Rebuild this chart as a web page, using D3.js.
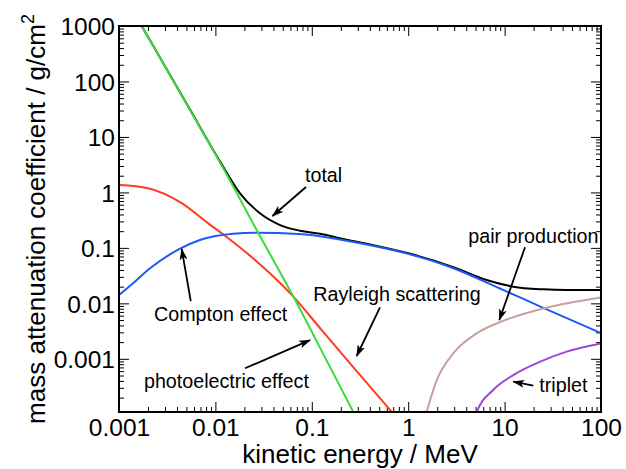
<!DOCTYPE html>
<html><head><meta charset="utf-8">
<script src="https://cdn.jsdelivr.net/npm/d3@7"></script>
<style>
body{margin:0;background:#fff}
svg{display:block}
text{font-family:"Liberation Sans",Arial,Helvetica,sans-serif;fill:#000}
</style>
</head><body>
<svg id="chart" width="626" height="469"></svg>
<script>
// ---- tick labels ----
const xTickValues = [0.001, 0.01, 0.1, 1, 10, 100];
const xTickLabels = ["0.001", "0.01", "0.1", "1", "10", "100"];
const yTickValues = [1000, 100, 10, 1, 0.1, 0.01, 0.001];
const yTickLabels = ["1000", "100", "10", "1", "0.1", "0.01", "0.001"];

// ---- series (energy in MeV, coefficient in g/cm^2) ----
const photoE = [0.0014, 0.00172, 0.0025, 0.00545, 0.0121, 0.0268, 0.0658, 0.12, 0.2695, 0.3];
const photoV = [1830, 1000, 326, 30.6, 2.69, 0.21, 0.01233, 0.00166, 1.1e-4, 7.66e-5];

const rayleighE = [0.001, 0.002, 0.00447, 0.00843, 0.0136, 0.0258, 0.0619, 0.1267, 0.292, 0.675, 0.8];
const rayleighV = [1.36, 1.19, 0.64, 0.277, 0.149, 0.0604, 0.0142, 0.0033, 6.0e-4, 1.11e-4, 7.9e-5];

const comptonE = [0.001, 0.0014, 0.0021, 0.0043, 0.0069, 0.0152, 0.0258, 0.08, 0.2, 0.37, 1, 2.94, 8.95, 25.2, 100];
const comptonV = [0.0141, 0.023, 0.0428, 0.097, 0.139, 0.18, 0.188, 0.177, 0.14, 0.115, 0.078, 0.043, 0.0185, 0.0083, 0.0029];

const totalE = [0.0014, 0.00172, 0.0025, 0.00545, 0.01117, 0.018, 0.029, 0.0468, 0.0754, 0.1216, 0.2, 0.37, 1, 2.94, 6.5, 12.3, 25.2, 44, 100];
const totalV = [1830, 1000, 326, 31.2, 3.6, 0.964, 0.42, 0.258, 0.204, 0.18, 0.148, 0.119, 0.08, 0.045, 0.0264, 0.020, 0.0179, 0.0174, 0.0174];

const pairE = [1.5, 1.98, 2.94, 5.13, 8.95, 25.2, 100];
const pairV = [9e-5, 4.15e-4, 1.26e-3, 0.00288, 0.0046, 0.0081, 0.0128];

const tripletE = [4.8, 5.13, 7.6, 12.3, 23.4, 44, 100];
const tripletV = [8e-5, 1.1e-4, 2.74e-4, 5.1e-4, 8.9e-4, 1.35e-3, 1.9e-3];

// ---- annotations: text anchor and arrow (tail -> head), in data units ----
const annTexts = ["total", "Compton effect", "photoelectric effect", "Rayleigh scattering", "pair production", "triplet"];
const annTextE = [0.085, 0.00231, 0.001816, 0.1037, 4.20, 22.9];
const annTextV = [1.54, 0.00481, 2.92e-4, 0.01117, 0.121, 2.49e-4];
const arrowFromE = [0.0871, 0.00555, 0.0203, 0.51, 16.28, 19.85];
const arrowFromV = [1.25, 0.0110, 6.75e-4, 8.49e-3, 0.1024, 3.28e-4];
const arrowToE = [0.0391, 0.00447, 0.0958, 0.292, 8.81, 12.31];
const arrowToV = [0.3755, 0.0955, 2.18e-3, 1.125e-3, 5.01e-3, 3.87e-4];

// ---- layout ----
const L = 119, R = 601, T = 26, B = 412;
const svg = d3.select("#chart");

const x = d3.scaleLog().domain([0.001, 100]).range([L, R]);
const y = d3.scaleLog().domain([1.1e-4, 1000]).range([B, T]);

function minors(lo, hi) {
  const out = [];
  for (let e = Math.floor(Math.log10(lo)); e < Math.ceil(Math.log10(hi)); e++) {
    for (let m = 2; m <= 9; m++) {
      const v = m * Math.pow(10, e);
      if (v > lo && v < hi) out.push(v);
    }
  }
  return out;
}
const xMinor = minors(0.001, 100);
const yMinor = minors(1.1e-4, 1000);
const MAJ = 10, MIN = 5;
const TICKFONT = 24.5;

function styleAxis(g) {
  g.select(".domain").remove();
  g.selectAll(".tick line").attr("stroke", "#000").attr("stroke-width", 1);
}

// bottom
svg.append("g").attr("transform", `translate(0,${B})`)
  .call(d3.axisBottom(x).tickValues(xTickValues).tickSize(-MAJ).tickPadding(7)
        .tickFormat((d, i) => xTickLabels[i]))
  .call(styleAxis)
  .call(g => g.selectAll("text").attr("font-size", TICKFONT).attr("font-family", "Liberation Sans, Arial, sans-serif"));
svg.append("g").attr("transform", `translate(0,${B})`)
  .call(d3.axisBottom(x).tickValues(xMinor).tickSize(-MIN).tickFormat(""))
  .call(styleAxis);
// top
svg.append("g").attr("transform", `translate(0,${T})`)
  .call(d3.axisTop(x).tickValues(xTickValues).tickSize(-MAJ).tickFormat(""))
  .call(styleAxis);
svg.append("g").attr("transform", `translate(0,${T})`)
  .call(d3.axisTop(x).tickValues(xMinor).tickSize(-MIN).tickFormat(""))
  .call(styleAxis);
// left
svg.append("g").attr("transform", `translate(${L},0)`)
  .call(d3.axisLeft(y).tickValues(yTickValues).tickSize(-MAJ).tickPadding(4)
        .tickFormat((d, i) => yTickLabels[i]))
  .call(styleAxis)
  .call(g => g.selectAll("text").attr("font-size", TICKFONT).attr("dy", "0.36em").attr("font-family", "Liberation Sans, Arial, sans-serif"));
svg.append("g").attr("transform", `translate(${L},0)`)
  .call(d3.axisLeft(y).tickValues(yMinor).tickSize(-MIN).tickFormat(""))
  .call(styleAxis);
// right
svg.append("g").attr("transform", `translate(${R},0)`)
  .call(d3.axisRight(y).tickValues(yTickValues).tickSize(-MAJ).tickFormat(""))
  .call(styleAxis);
svg.append("g").attr("transform", `translate(${R},0)`)
  .call(d3.axisRight(y).tickValues(yMinor).tickSize(-MIN).tickFormat(""))
  .call(styleAxis);

// clip
svg.append("clipPath").attr("id", "plotclip")
  .append("rect").attr("x", L).attr("y", T).attr("width", R - L).attr("height", B - T);

const line = d3.line().x(d => x(d[0])).y(d => y(d[1])).curve(d3.curveMonotoneX);
const series = [
  {E: totalE, V: totalV, color: "#000000"},
  {E: rayleighE, V: rayleighV, color: "#ff3b22"},
  {E: comptonE, V: comptonV, color: "#1a5cf5"},
  {E: photoE, V: photoV, color: "#3ddc3d"},
  {E: pairE, V: pairV, color: "#c8a09c"},
  {E: tripletE, V: tripletV, color: "#9a45dc"}
];
const plot = svg.append("g").attr("clip-path", "url(#plotclip)");
series.forEach(s => {
  plot.append("path")
    .datum(s.E.map((e, i) => [e, s.V[i]]))
    .attr("fill", "none")
    .attr("stroke", s.color)
    .attr("stroke-width", 2)
    .attr("stroke-linejoin", "round")
    .attr("d", line);
});

// frame
svg.append("rect").attr("x", L).attr("y", T).attr("width", R - L).attr("height", B - T)
  .attr("fill", "none").attr("stroke", "#000").attr("stroke-width", 2);

// arrow marker
svg.append("defs").append("marker")
  .attr("id", "arrowhead").attr("markerUnits", "userSpaceOnUse")
  .attr("viewBox", "0 0 12 8").attr("refX", 11).attr("refY", 4)
  .attr("markerWidth", 12).attr("markerHeight", 8).attr("orient", "auto")
  .append("path").attr("d", "M0,0 L12,4 L0,8 L3,4 Z").attr("fill", "#000");

// annotations
const ann = svg.append("g");
annTexts.forEach((t, i) => {
  ann.append("text").attr("x", x(annTextE[i])).attr("y", y(annTextV[i]))
    .attr("font-size", 19.7).text(t);
  ann.append("line")
    .attr("x1", x(arrowFromE[i])).attr("y1", y(arrowFromV[i]))
    .attr("x2", x(arrowToE[i])).attr("y2", y(arrowToV[i]))
    .attr("stroke", "#000").attr("stroke-width", 1.8)
    .attr("marker-end", "url(#arrowhead)");
});

// axis titles
svg.append("text").attr("x", (L + R) / 2).attr("y", 463)
  .attr("text-anchor", "middle").attr("font-size", 26)
  .text("kinetic energy / MeV");
const yt = svg.append("text").attr("transform", `translate(45,${(T + B) / 2}) rotate(-90)`)
  .attr("text-anchor", "middle").attr("font-size", 26);
yt.append("tspan").text("mass attenuation coefficient / g/cm");
yt.append("tspan").attr("font-size", 18).attr("dy", "-0.6em").text("2");
</script>
</body></html>
